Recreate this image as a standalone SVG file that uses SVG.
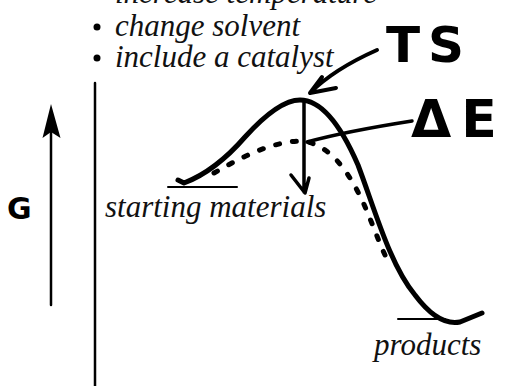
<svg xmlns="http://www.w3.org/2000/svg" width="506" height="386" viewBox="0 0 506 386">
<style>
.lbl{font-family:"Liberation Serif","Times New Roman",serif;font-style:italic;font-size:31px;fill:#111}
.hand{font-family:"DejaVu Sans",sans-serif;font-weight:bold;fill:#000}
.ln{fill:none;stroke:#000;stroke-linecap:round;stroke-linejoin:round}
</style>
<rect width="506" height="386" fill="#fff"/>
<g id="conditions">
<text class="lbl" x="115" y="3">increase temperature</text>
<circle cx="97" cy="27" r="3.5" fill="#000"/>
<text class="lbl" x="115" y="36">change solvent</text>
<circle cx="97" cy="58" r="3.5" fill="#000"/>
<text class="lbl" x="115" y="67">include a catalyst</text>
</g>
<g id="axis">
<line class="ln" x1="95" y1="83" x2="95" y2="386" stroke-width="2.5"/>
<line class="ln" x1="51" y1="130" x2="51" y2="305" stroke-width="2.5"/>
<polygon points="51,104 60.5,138 51,132 42.5,138" fill="#000"/>
<text class="hand" x="7" y="219" font-size="30" font-family="Liberation Sans, Arial, sans-serif">G</text>
</g>
<g id="starting-materials">
<line class="ln" x1="168" y1="187" x2="237" y2="187" stroke-width="2"/>
<text class="lbl" x="105" y="217">starting materials</text>
</g>
<g id="products">
<line class="ln" x1="398" y1="319" x2="445" y2="319" stroke-width="2"/>
<text class="lbl" x="374" y="355">products</text>
</g>
<g id="connectors">
<path class="ln" stroke-width="5" d="M178,180 L184,183 C205,175 225,160 245,137 C265,115 285,100 300,100 C325,100 345,135 358,165 C375,210 390,265 415,295 C430,315 445,325 460,322 L482,313"/>
<path class="ln" stroke-width="5" stroke-dasharray="4 13" d="M214,173 C240,158 270,142 300,141 C330,142 350,175 362,200 C372,222 378,240 385,255"/>
<path class="ln" stroke-width="3.5" d="M304,100 L304,192 M291,175 L305,193 L309,178"/>
<path class="ln" stroke-width="3.5" d="M307,142 C340,133 380,126 412,121"/>
<path class="ln" stroke-width="4" d="M377,50 C350,62 325,78 310,93 M322,77 L310,93 L336,88"/>
</g>
<g id="ts-label">
<text class="hand" x="386" y="62" font-size="50" letter-spacing="8">TS</text>
</g>
<g id="de-label">
<text class="hand" x="411" y="137" font-size="52" letter-spacing="10">ΔE</text>
</g>
</svg>
